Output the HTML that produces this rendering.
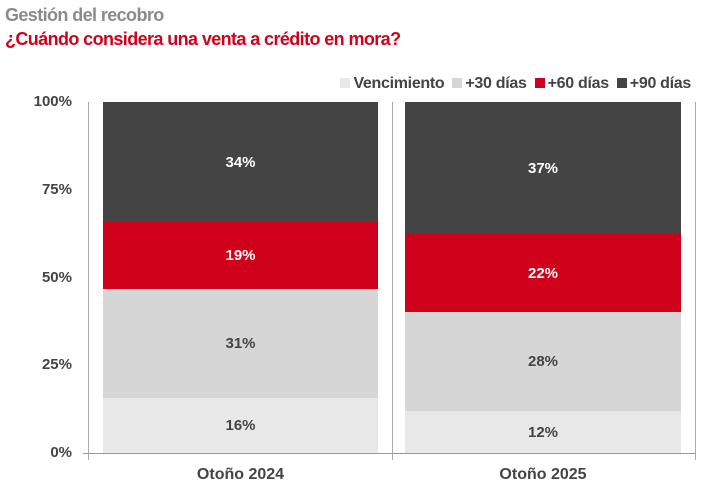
<!DOCTYPE html>
<html><head><meta charset="utf-8"><style>
body{margin:0;width:707px;height:495px;background:#fff;overflow:hidden;font-family:"Liberation Sans Narrow","Liberation Sans",sans-serif;font-weight:bold;position:relative}
.a{position:absolute;white-space:nowrap}
.seg{position:absolute;display:flex;align-items:center;justify-content:center;font-size:15px}
.sq{display:inline-block;width:10px;height:10px;margin:0 3px 0 8px}
</style></head><body>
<div class="a" style="left:5px;top:5px;font-size:18px;color:#8a8a8a;letter-spacing:-0.6px">Gestión del recobro</div>
<div class="a" style="left:5px;top:29px;font-size:18px;color:#d0021b;letter-spacing:-0.6px">¿Cuándo considera una venta a crédito en mora?</div>
<div class="a" style="right:16px;top:75px;font-size:16px;color:#444;letter-spacing:-0.3px">
<span class="sq" style="background:#e8e8e8"></span>Vencimiento<span class="sq" style="background:#d6d6d6"></span>+30 días<span class="sq" style="background:#d0021b"></span>+60 días<span class="sq" style="background:#444"></span>+90 días</div>
<div class="a" style="right:635px;top:93px;font-size:15px;color:#444">100%</div>
<div class="a" style="right:635px;top:181px;font-size:15px;color:#444">75%</div>
<div class="a" style="right:635px;top:269px;font-size:15px;color:#444">50%</div>
<div class="a" style="right:635px;top:356px;font-size:15px;color:#444">25%</div>
<div class="a" style="right:635px;top:444px;font-size:15px;color:#444">0%</div>
<div class="a" style="left:83px;top:453px;width:612px;height:1px;background:#999"></div>
<div class="a" style="left:88px;top:102px;width:1px;height:358px;background:#aaa"></div>
<div class="a" style="left:392px;top:102px;width:1px;height:358px;background:#aaa"></div>
<div class="a" style="left:695px;top:102px;width:1px;height:358px;background:#aaa"></div>
<div class="seg" style="left:103px;width:275px;top:102px;height:120px;background:#444;color:#fff">34%</div>
<div class="seg" style="left:103px;width:275px;top:222px;height:67px;background:#d0021b;color:#fff">19%</div>
<div class="seg" style="left:103px;width:275px;top:289px;height:109px;background:#d6d6d6;color:#444">31%</div>
<div class="seg" style="left:103px;width:275px;top:398px;height:55px;background:#e8e8e8;color:#444">16%</div>
<div class="seg" style="left:405px;width:276px;top:102px;height:132px;background:#444;color:#fff">37%</div>
<div class="seg" style="left:405px;width:276px;top:234px;height:78px;background:#d0021b;color:#fff">22%</div>
<div class="seg" style="left:405px;width:276px;top:312px;height:99px;background:#d6d6d6;color:#444">28%</div>
<div class="seg" style="left:405px;width:276px;top:411px;height:42px;background:#e8e8e8;color:#444">12%</div>
<div class="a" style="left:103px;width:275px;text-align:center;top:466px;font-size:16px;color:#444">Otoño 2024</div>
<div class="a" style="left:405px;width:276px;text-align:center;top:466px;font-size:16px;color:#444">Otoño 2025</div>
</body></html>
